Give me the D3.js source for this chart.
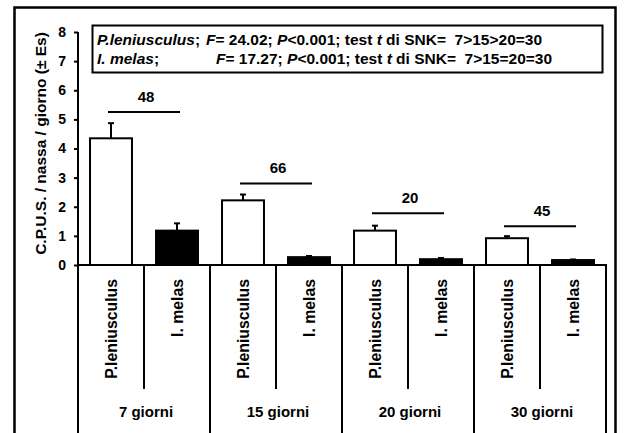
<!DOCTYPE html>
<html>
<head>
<meta charset="utf-8">
<script src="https://cdn.jsdelivr.net/npm/d3@7"></script>
<style>
  html, body { margin: 0; padding: 0; background: #fff; }
  svg { display: block; font-family: "Liberation Sans", Arial, sans-serif; font-weight: bold; }
</style>
</head>
<body>
<svg id="chart" width="624" height="433"></svg>
<script>
// CPUS per trap per day, mean ± SE, by soak time
const groups = ['7 giorni', '15 giorni', '20 giorni', '30 giorni'];
const species = ['P.leniusculus', 'I. melas'];
const pleniMean = [4.35, 2.22, 1.18, 0.92];
const pleniSe   = [0.52, 0.20, 0.17, 0.07];
const melasMean = [1.18, 0.27, 0.20, 0.17];
const melasSe   = [0.25, 0.04, 0.04, 0.02];
const nLabels   = [48, 66, 20, 45];          // sample sizes over each group
const nLevels   = [5.25, 2.8, 1.78, 1.33];    // height of the bracket, in y units
const yTicks    = [0, 1, 2, 3, 4, 5, 6, 7, 8];

const svg = d3.select('#chart');
const W = 624, H = 433;
const plotL = 78, plotR = 606, plotT = 32, base = 265;

const x = d3.scaleBand().domain(groups).range([plotL, plotR]).padding(0);
const xs = d3.scaleBand().domain(species).range([0, x.bandwidth()])
  .paddingInner(0.364).paddingOuter(0.182);
const y = d3.scaleLinear().domain([0, 8]).range([base, plotT]);

const rows = [];
groups.forEach((g, i) => {
  rows.push({ g, s: species[0], v: pleniMean[i], e: pleniSe[i], fill: '#fff' });
  rows.push({ g, s: species[1], v: melasMean[i], e: melasSe[i], fill: '#000' });
});

// outer frame (runs off the bottom)
svg.append('rect')
  .attr('x', 14.5).attr('y', 7.5).attr('width', 601).attr('height', H + 20)
  .attr('fill', 'none').attr('stroke', '#000').attr('stroke-width', 2.5);

// legend box
const lg = svg.append('g');
lg.append('rect')
  .attr('x', 92.5).attr('y', 25.5).attr('width', 510).attr('height', 47)
  .attr('fill', '#fff').attr('stroke', '#000').attr('stroke-width', 2);

const legendLines = [
  { sp: 'P.leniusculus', F: '24.02', snk: '7>15>20=30', y: 45, fx: 206 },
  { sp: 'I. melas', F: '17.27', snk: '7>15=20=30', y: 64, fx: 216 }
];
legendLines.forEach(l => {
  const t1 = lg.append('text').attr('x', 97).attr('y', l.y).attr('font-size', 15.5);
  t1.append('tspan').attr('font-style', 'italic').text(l.sp);
  t1.append('tspan').text(';');
  const t2 = lg.append('text').attr('x', l.fx).attr('y', l.y).attr('font-size', 15.5)
    .attr('xml:space', 'preserve');
  t2.append('tspan').attr('font-style', 'italic').text('F');
  t2.append('tspan').text('= ' + l.F + '; ');
  t2.append('tspan').attr('font-style', 'italic').text('P');
  t2.append('tspan').text('<0.001; test ');
  t2.append('tspan').attr('font-style', 'italic').text('t');
  t2.append('tspan').text(' di SNK=  ' + l.snk);
});

// y axis
const yAxis = d3.axisLeft(y).tickValues(yTicks).tickSize(4).tickPadding(8);
const ya = svg.append('g').attr('transform', `translate(${plotL},0)`).call(yAxis);
ya.select('.domain').attr('stroke-width', 2).attr('d', `M0,${plotT}V${base}`);
ya.selectAll('.tick line').attr('stroke-width', 2);
ya.selectAll('.tick text').attr('font-size', 14).attr('font-weight', 'bold')
  .attr('font-family', '"Liberation Sans", Arial, sans-serif').attr('fill', '#000');

svg.append('text')
  .attr('transform', `translate(46,${(plotT + base) / 2 - 5}) rotate(-90)`)
  .attr('text-anchor', 'middle').attr('font-size', 15.5)
  .text('C.P.U.S. / nassa / giorno (± Es)');

// bars
svg.append('g').selectAll('rect').data(rows).join('rect')
  .attr('x', d => x(d.g) + xs(d.s))
  .attr('y', d => y(d.v))
  .attr('width', xs.bandwidth())
  .attr('height', d => base - y(d.v))
  .attr('fill', d => d.fill)
  .attr('stroke', '#000').attr('stroke-width', 2);

// error bars (upper only)
const eb = svg.append('g').attr('stroke', '#000').attr('stroke-width', 2);
eb.selectAll('line.v').data(rows).join('line').attr('class', 'v')
  .attr('x1', d => x(d.g) + xs(d.s) + xs.bandwidth() / 2)
  .attr('x2', d => x(d.g) + xs(d.s) + xs.bandwidth() / 2)
  .attr('y1', d => y(d.v)).attr('y2', d => y(d.v + d.e));
eb.selectAll('line.c').data(rows).join('line').attr('class', 'c')
  .attr('x1', d => x(d.g) + xs(d.s) + xs.bandwidth() / 2 - 3)
  .attr('x2', d => x(d.g) + xs(d.s) + xs.bandwidth() / 2 + 3)
  .attr('y1', d => y(d.v + d.e)).attr('y2', d => y(d.v + d.e));

// n brackets
const ann = svg.append('g');
groups.forEach((g, i) => {
  const cx = x(g) + x.bandwidth() / 2;
  ann.append('line')
    .attr('x1', cx - 36).attr('x2', cx + 36)
    .attr('y1', y(nLevels[i])).attr('y2', y(nLevels[i]))
    .attr('stroke', '#000').attr('stroke-width', 2);
  ann.append('text').attr('x', cx + 2).attr('y', y(nLevels[i]) - 10)
    .attr('text-anchor', 'middle').attr('font-size', 15).text(nLabels[i]);
});

// category table below the axis
const tb = svg.append('g').attr('stroke', '#000').attr('stroke-width', 2);
tb.append('line').attr('x1', plotL - 1).attr('x2', plotR + 1).attr('y1', base).attr('y2', base);
tb.selectAll('line.gsep').data([...groups.map(g => x(g)), plotR]).join('line')
  .attr('class', 'gsep')
  .attr('x1', d => d).attr('x2', d => d).attr('y1', base).attr('y2', H + 5);
tb.selectAll('line.ssep').data(groups).join('line').attr('class', 'ssep')
  .attr('x1', d => x(d) + x.bandwidth() / 2).attr('x2', d => x(d) + x.bandwidth() / 2)
  .attr('y1', base).attr('y2', 389);

svg.append('g').selectAll('text').data(rows).join('text')
  .attr('transform', d => `translate(${x(d.g) + xs(d.s) + xs.bandwidth() / 2},279) rotate(-90)`)
  .attr('text-anchor', 'end').attr('dy', '0.35em').attr('font-size', 15.8)
  .text(d => d.s);

svg.append('g').selectAll('text').data(groups).join('text')
  .attr('x', d => x(d) + x.bandwidth() / 2 + 2).attr('y', 417)
  .attr('text-anchor', 'middle').attr('font-size', 15)
  .text(d => d);
</script>
</body>
</html>
